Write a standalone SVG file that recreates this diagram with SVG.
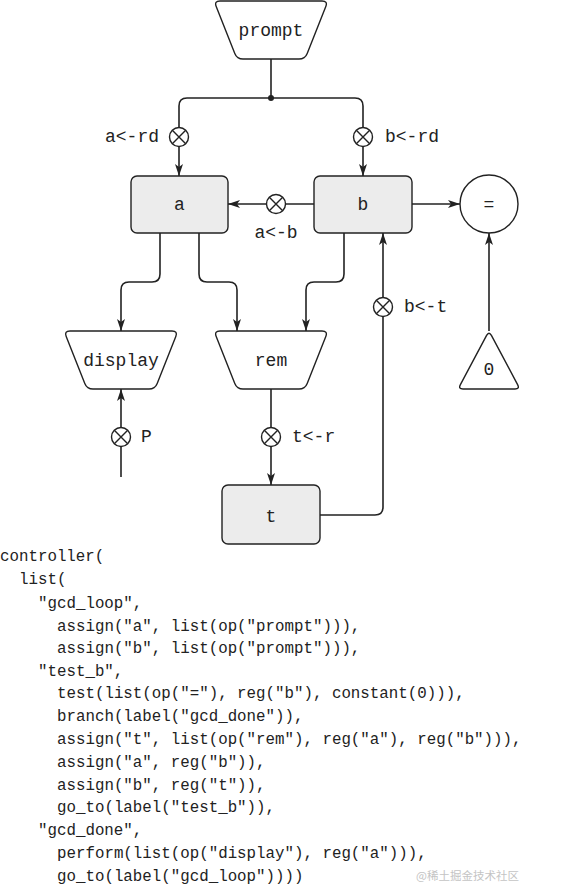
<svg xmlns="http://www.w3.org/2000/svg" width="582" height="887" viewBox="0 0 582 887">
<style>
.ln{fill:none;stroke:#222;stroke-width:1.6}
.nd{fill:#fff;stroke:#222;stroke-width:1.4}
.reg{fill:#ececec;stroke:#222;stroke-width:1.4}
.lb{font-family:"Liberation Mono","DejaVu Sans Mono",monospace;font-size:18px;fill:#222}
.cd{font-family:"Liberation Mono","DejaVu Sans Mono",monospace;font-size:15.8px;fill:#222}
.wm{font-family:"Noto Sans CJK SC","Liberation Sans",sans-serif;font-size:11.5px;fill:#c4c4c4}
</style>
<defs>
<marker id="ar" viewBox="0 0 12 8" refX="12" refY="4" markerWidth="12" markerHeight="8" markerUnits="userSpaceOnUse" orient="auto">
<path d="M0,0 L12,4 L0,8 L3,4 Z" fill="#222"/>
</marker>
<path id="trap" d="M6,0 L108,0 Q114,0 111.8,5.6 L93.2,52.4 Q91,58 85,58 L29,58 Q23,58 20.8,52.4 L2.2,5.6 Q0,0 6,0 Z"/>
<g id="xc"><circle r="9.5" fill="#fff" stroke="#222" stroke-width="1.4"/><path d="M-6.7,-6.7 L6.7,6.7 M-6.7,6.7 L6.7,-6.7" stroke="#222" stroke-width="1.4"/></g>
</defs>

<g id="connectors">
<path class="ln" d="M271,59 V98"/>
<circle cx="271" cy="98" r="3" fill="#222"/>
<path class="ln" d="M271,98 H187 Q179,98 179,106 V176" marker-end="url(#ar)"/>
<path class="ln" d="M271,98 H355 Q363,98 363,106 V176" marker-end="url(#ar)"/>
<path class="ln" d="M314,204 H228" marker-end="url(#ar)"/>
<path class="ln" d="M412,204 H460" marker-end="url(#ar)"/>
<path class="ln" d="M489,331 V233" marker-end="url(#ar)"/>
<path class="ln" d="M160,233 V274 Q160,282 152,282 H129 Q121,282 121,290 V331" marker-end="url(#ar)"/>
<path class="ln" d="M199,233 V274 Q199,282 207,282 H229 Q237,282 237,290 V331" marker-end="url(#ar)"/>
<path class="ln" d="M344,233 V274 Q344,282 336,282 H314 Q306,282 306,290 V331" marker-end="url(#ar)"/>
<path class="ln" d="M271,389 V485" marker-end="url(#ar)"/>
<path class="ln" d="M121,477 V389" marker-end="url(#ar)"/>
<path class="ln" d="M320,515 H375 Q383,515 383,507 V233" marker-end="url(#ar)"/>
<use href="#xc" x="179" y="137"/>
<use href="#xc" x="363" y="137"/>
<use href="#xc" x="276" y="204"/>
<use href="#xc" x="383" y="307"/>
<use href="#xc" x="121" y="437"/>
<use href="#xc" x="271" y="437"/>
<text class="lb" x="159" y="142" text-anchor="end">a&lt;-rd</text>
<text class="lb" x="385" y="142">b&lt;-rd</text>
<text class="lb" x="276" y="238" text-anchor="middle">a&lt;-b</text>
<text class="lb" x="404" y="312">b&lt;-t</text>
<text class="lb" x="141" y="442">P</text>
<text class="lb" x="292" y="442">t&lt;-r</text>
</g>

<g id="prompt">
<use href="#trap" x="214" y="1" class="nd"/>
<text class="lb" x="271" y="36" text-anchor="middle">prompt</text>
</g>
<g id="a">
<rect class="reg" x="131" y="176" width="97" height="57" rx="6"/>
<text class="lb" x="179.5" y="210" text-anchor="middle">a</text>
</g>
<g id="b">
<rect class="reg" x="314" y="176" width="98" height="57" rx="6"/>
<text class="lb" x="363" y="210" text-anchor="middle">b</text>
</g>
<g id="eq">
<circle class="nd" cx="489" cy="204" r="29"/>
<text class="lb" x="489" y="210" text-anchor="middle">=</text>
</g>
<g id="display">
<use href="#trap" x="64" y="331" class="nd"/>
<text class="lb" x="121" y="366" text-anchor="middle">display</text>
</g>
<g id="rem">
<use href="#trap" x="214" y="331" class="nd"/>
<text class="lb" x="271" y="366" text-anchor="middle">rem</text>
</g>
<g id="zero">
<path class="nd" d="M486.6,335.4 Q489,331 491.4,335.4 L517.6,384.6 Q520,389 515,389 L463,389 Q458,389 460.4,384.6 Z"/>
<text class="lb" x="489" y="375" text-anchor="middle">0</text>
</g>
<g id="t">
<rect class="reg" x="222" y="485" width="98" height="59" rx="6"/>
<text class="lb" x="271" y="522" text-anchor="middle">t</text>
</g>

<g id="code">
<text class="cd" x="0" y="561">controller(</text>
<text class="cd" x="19" y="584">list(</text>
<text class="cd" x="38" y="608">"gcd_loop",</text>
<text class="cd" x="57" y="631">assign("a", list(op("prompt"))),</text>
<text class="cd" x="57" y="653">assign("b", list(op("prompt"))),</text>
<text class="cd" x="38" y="676">"test_b",</text>
<text class="cd" x="57" y="698">test(list(op("="), reg("b"), constant(0))),</text>
<text class="cd" x="57" y="721">branch(label("gcd_done")),</text>
<text class="cd" x="57" y="744">assign("t", list(op("rem"), reg("a"), reg("b"))),</text>
<text class="cd" x="57" y="767">assign("a", reg("b")),</text>
<text class="cd" x="57" y="790">assign("b", reg("t")),</text>
<text class="cd" x="57" y="812">go_to(label("test_b")),</text>
<text class="cd" x="38" y="835">"gcd_done",</text>
<text class="cd" x="57" y="858">perform(list(op("display"), reg("a"))),</text>
<text class="cd" x="57" y="881">go_to(label("gcd_loop"))))</text>
</g>
<text class="wm" x="519" y="880" text-anchor="end">@稀土掘金技术社区</text>
</svg>
